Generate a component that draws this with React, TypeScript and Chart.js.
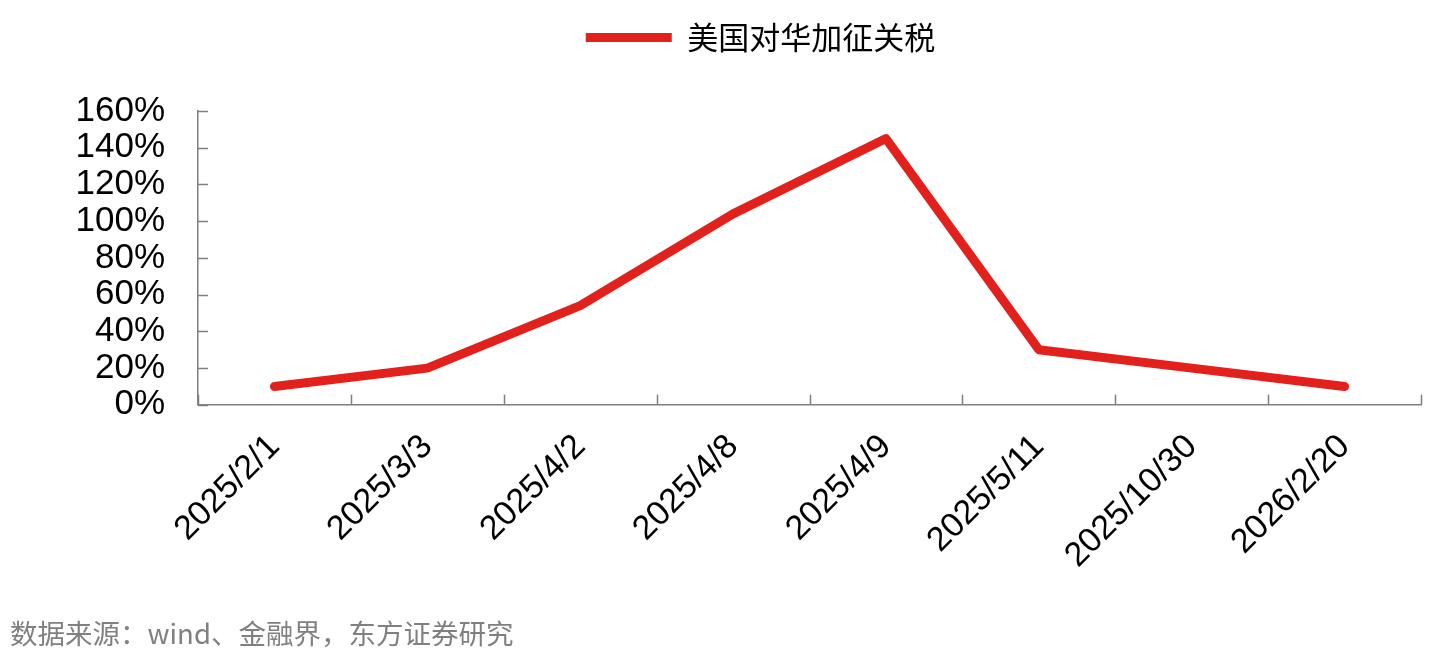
import React, { useEffect, useRef } from 'react';
import { Chart, registerables } from 'chart.js';

Chart.register(...registerables);

// données
const categories = ['2025/2/1', '2025/3/3', '2025/4/2', '2025/4/8', '2025/4/9', '2025/5/11', '2025/10/30', '2026/2/20'];
const tariffRates = [10, 20, 54, 104, 145, 30, 20, 10];
const seriesName = '美国对华加征关税';
const sourceNote = '数据来源：wind、金融界，东方证券研究';

const AXIS_COLOR = '#7f7f7f';
const LINE_COLOR = '#e3211c';

// petits traits de graduation tournés vers l'intérieur
const innerTicks = {
  id: 'innerTicks',
  afterDraw(chart: Chart) {
    const ctx = chart.ctx;
    const x = chart.scales.x;
    const y = chart.scales.y;
    ctx.save();
    ctx.strokeStyle = AXIS_COLOR;
    ctx.lineWidth = 1.5;
    ctx.beginPath();
    y.ticks.forEach((t) => {
      const py = Math.round(y.getPixelForValue(t.value)) + 0.5;
      ctx.moveTo(x.left, py);
      ctx.lineTo(x.left + 10, py);
    });
    for (let i = 0; i <= categories.length; i++) {
      const px = Math.round(x.getPixelForValue(i - 0.5)) + 0.5;
      ctx.moveTo(px, y.bottom);
      ctx.lineTo(px, y.bottom - 10);
    }
    ctx.stroke();
    ctx.restore();
  },
};

// espace sous la légende + décalage horizontal de la légende
const legendTweak = {
  id: 'legendTweak',
  beforeInit(chart: any) {
    const fit = chart.legend.fit;
    chart.legend.fit = function () {
      fit.bind(chart.legend)();
      this.height += 48;
    };
  },
  afterLayout(chart: any) {
    chart.legend.left += 50;
    chart.legend.right += 50;
  },
};

const App: React.FC = () => {
  const chartRef = useRef<HTMLCanvasElement>(null);
  const chartInstance = useRef<Chart | null>(null);

  useEffect(() => {
    document.body.style.margin = '0';
    if (chartRef.current) {
      const ctx = chartRef.current.getContext('2d');
      if (chartInstance.current) {
        chartInstance.current.destroy();
      }
      chartInstance.current = new Chart(ctx as CanvasRenderingContext2D, {
        type: 'line',
        data: {
          labels: categories,
          datasets: [
            {
              label: seriesName,
              data: tariffRates,
              borderColor: LINE_COLOR,
              backgroundColor: LINE_COLOR,
              borderWidth: 9,
              borderCapStyle: 'round',
              borderJoinStyle: 'round',
              pointRadius: 0,
              tension: 0,
            },
          ],
        },
        options: {
          animation: false,
          responsive: false,
          layout: {
            padding: { left: 0, right: 14, top: 12, bottom: 51 },
          },
          plugins: {
            legend: {
              position: 'top',
              labels: {
                usePointStyle: true,
                pointStyle: 'line',
                pointStyleWidth: 86,
                boxHeight: 9,
                color: '#000',
                font: { family: '"Noto Sans CJK SC", sans-serif', size: 31 },
              },
            },
            tooltip: { enabled: false },
          },
          scales: {
            x: {
              type: 'category',
              offset: true,
              grid: { display: false, drawTicks: false },
              border: { color: AXIS_COLOR, width: 1.5 },
              ticks: {
                color: '#000',
                autoSkip: false,
                maxRotation: 45,
                minRotation: 45,
                padding: 22,
                font: { family: '"Liberation Sans", Arial, sans-serif', size: 34 },
              },
            },
            y: {
              type: 'linear',
              min: 0,
              max: 160,
              grid: { display: false, drawTicks: false },
              border: { color: AXIS_COLOR, width: 1.5 },
              afterFit: (scale: any) => {
                scale.width = 198;
              },
              ticks: {
                stepSize: 20,
                autoSkip: false,
                padding: 33,
                color: '#000',
                font: { family: '"Liberation Sans", Arial, sans-serif', size: 35 },
                callback: (v: any) => `${v}%`,
              },
            },
          },
        },
        plugins: [innerTicks, legendTweak],
      });
    }

    return () => {
      if (chartInstance.current) {
        chartInstance.current.destroy();
        chartInstance.current = null;
      }
    };
  }, []);

  return (
    <div style={{ position: 'relative', width: 1435, height: 649 }}>
      <canvas ref={chartRef} width={1435} height={649} />
      <div
        style={{
          position: 'absolute',
          left: 10,
          top: 614,
          fontFamily: '"Noto Sans CJK SC", sans-serif',
          fontSize: 27.5,
          lineHeight: '36px',
          color: '#808080',
          whiteSpace: 'nowrap',
        }}
      >
        {sourceNote}
      </div>
    </div>
  );
};

export default App;
